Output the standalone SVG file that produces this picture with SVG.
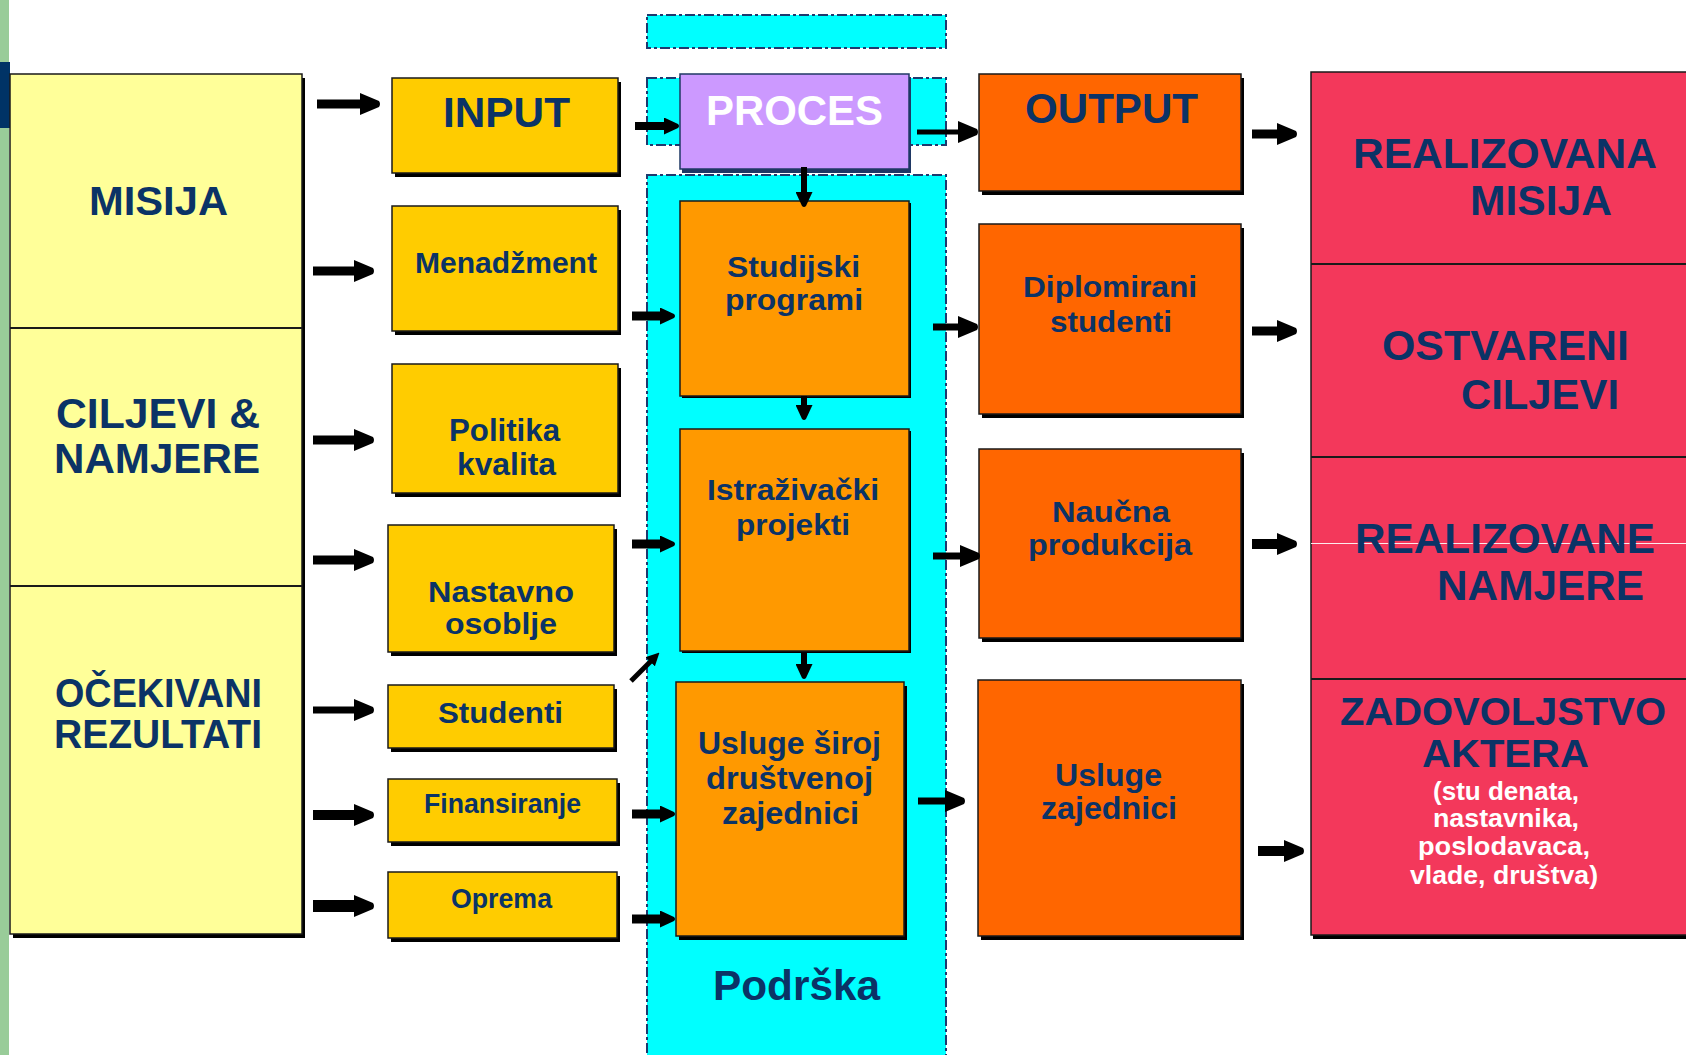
<svg xmlns="http://www.w3.org/2000/svg" width="1686" height="1055" viewBox="0 0 1686 1055">
<style>
.t{font-family:"Liberation Sans",Arial,sans-serif;font-weight:bold;fill:#0B3366}
.w{fill:#ffffff}
.box{stroke:#1a1a1a;stroke-width:1.5}
.sh{fill:#000}
.band{fill:#00FFFF;stroke:#1F3A6E;stroke-width:2;stroke-dasharray:10 3 3 3}
.div{stroke:#1a1a1a;stroke-width:2}
.c line{stroke:#000;fill:none}
</style>
<defs>
<marker id="ah" markerUnits="userSpaceOnUse" markerWidth="22" markerHeight="22" refX="1" refY="11" orient="auto" viewBox="0 0 22 22">
<path d="M0,0 L19,8 Q21,11 19,14 L0,22 z" fill="#000"/>
</marker>
<marker id="as" markerUnits="userSpaceOnUse" markerWidth="16" markerHeight="17" refX="1" refY="8.5" orient="auto" viewBox="0 0 16 17">
<path d="M0,0 L14,6.5 Q16,8.5 14,10.5 L0,17 z" fill="#000"/>
</marker>
<marker id="at" markerUnits="userSpaceOnUse" markerWidth="13" markerHeight="13" refX="1" refY="6.5" orient="auto" viewBox="0 0 13 13">
<path d="M0,0 L13,6.5 L0,13 z" fill="#000"/>
</marker>
</defs>
<rect width="1686" height="1055" fill="#fff"/>
<!-- left strip -->
<rect x="0" y="0" width="9" height="1055" fill="#99CC99"/>
<rect x="0" y="62" width="10" height="66" fill="#003366"/>

<!-- process bands -->
<g id="bands">
<rect class="band" x="647" y="15" width="299" height="33"/>
<rect class="band" x="647" y="78" width="299" height="67"/>
<rect class="band" x="647" y="175" width="299" height="900"/>
</g>

<!-- left column -->
<g id="left-column">
<rect class="sh" x="13" y="78" width="292" height="860"/>
<rect class="box" x="10" y="74" width="292" height="860" fill="#FFFF99"/>
<line class="div" x1="10" y1="328" x2="302" y2="328"/>
<line class="div" x1="10" y1="586" x2="302" y2="586"/>
</g>
<g id="misija"><text class="t" x="89" y="215" font-size="40" textLength="139" lengthAdjust="spacingAndGlyphs">MISIJA</text></g>
<g id="ciljevi"><text class="t" x="56" y="428" font-size="42" textLength="204" lengthAdjust="spacingAndGlyphs">CILJEVI &amp;</text>
<text class="t" x="54" y="473" font-size="42" textLength="206" lengthAdjust="spacingAndGlyphs">NAMJERE</text></g>
<g id="ocekivani"><text class="t" x="55" y="707" font-size="40" textLength="207" lengthAdjust="spacingAndGlyphs">OČEKIVANI</text>
<text class="t" x="54" y="748" font-size="40" textLength="208" lengthAdjust="spacingAndGlyphs">REZULTATI</text></g>

<!-- input column -->
<g id="input">
<rect class="sh" x="395" y="82" width="226" height="95"/>
<rect class="box" x="392" y="78" width="226" height="95" fill="#FFCC00"/>
<text class="t" x="443" y="127" font-size="42" textLength="127" lengthAdjust="spacingAndGlyphs">INPUT</text>
</g>
<g id="menadzment">
<rect class="sh" x="395" y="210" width="226" height="125"/>
<rect class="box" x="392" y="206" width="226" height="125" fill="#FFCC00"/>
<text class="t" x="415" y="273" font-size="29" textLength="182" lengthAdjust="spacingAndGlyphs">Menadžment</text>
</g>
<g id="politika">
<rect class="sh" x="395" y="368" width="226" height="129"/>
<rect class="box" x="392" y="364" width="226" height="129" fill="#FFCC00"/>
<text class="t" x="449" y="441" font-size="31" textLength="111" lengthAdjust="spacingAndGlyphs">Politika</text>
<text class="t" x="457" y="475" font-size="31" textLength="99" lengthAdjust="spacingAndGlyphs">kvalita</text>
</g>
<g id="nastavno">
<rect class="sh" x="391" y="529" width="226" height="127"/>
<rect class="box" x="388" y="525" width="226" height="127" fill="#FFCC00"/>
<text class="t" x="428" y="602" font-size="30" textLength="146" lengthAdjust="spacingAndGlyphs">Nastavno</text>
<text class="t" x="445" y="634" font-size="30" textLength="112" lengthAdjust="spacingAndGlyphs">osoblje</text>
</g>
<g id="studenti">
<rect class="sh" x="391" y="689" width="226" height="63"/>
<rect class="box" x="388" y="685" width="226" height="63" fill="#FFCC00"/>
<text class="t" x="438" y="723" font-size="30" textLength="125" lengthAdjust="spacingAndGlyphs">Studenti</text>
</g>
<g id="finansiranje">
<rect class="sh" x="391" y="783" width="229" height="63"/>
<rect class="box" x="388" y="779" width="229" height="63" fill="#FFCC00"/>
<text class="t" x="424" y="813" font-size="28" textLength="157" lengthAdjust="spacingAndGlyphs">Finansiranje</text>
</g>
<g id="oprema">
<rect class="sh" x="391" y="876" width="229" height="66"/>
<rect class="box" x="388" y="872" width="229" height="66" fill="#FFCC00"/>
<text class="t" x="451" y="908" font-size="28" textLength="101" lengthAdjust="spacingAndGlyphs">Oprema</text>
</g>

<!-- process column -->
<g id="proces">
<rect x="682" y="77" width="229" height="96" fill="#1F3864"/>
<rect x="680" y="74" width="229" height="95" fill="#CC99FF" stroke="#1F3864" stroke-width="1.5"/>
<text class="t w" x="706" y="125" font-size="42" textLength="177" lengthAdjust="spacingAndGlyphs">PROCES</text>
</g>
<g id="studijski">
<rect class="sh" x="682" y="203" width="229" height="195"/>
<rect class="box" x="680" y="201" width="229" height="195" fill="#FF9900"/>
<text class="t" x="727" y="277" font-size="30" textLength="133" lengthAdjust="spacingAndGlyphs">Studijski</text>
<text class="t" x="725" y="310" font-size="30" textLength="138" lengthAdjust="spacingAndGlyphs">programi</text>
</g>
<g id="istrazivacki">
<rect class="sh" x="682" y="431" width="229" height="222"/>
<rect class="box" x="680" y="429" width="229" height="222" fill="#FF9900"/>
<text class="t" x="707" y="500" font-size="30" textLength="172" lengthAdjust="spacingAndGlyphs">Istraživački</text>
<text class="t" x="736" y="535" font-size="30" textLength="114" lengthAdjust="spacingAndGlyphs">projekti</text>
</g>
<g id="usluge-siroj">
<rect class="sh" x="679" y="686" width="228" height="254"/>
<rect class="box" x="676" y="682" width="228" height="254" fill="#FF9900"/>
<text class="t" x="698" y="754" font-size="31" textLength="183" lengthAdjust="spacingAndGlyphs">Usluge široj</text>
<text class="t" x="706" y="789" font-size="31" textLength="167" lengthAdjust="spacingAndGlyphs">društvenoj</text>
<text class="t" x="722" y="824" font-size="31" textLength="137" lengthAdjust="spacingAndGlyphs">zajednici</text>
</g>
<g id="podrska"><text class="t" x="713" y="1000" font-size="42" textLength="167" lengthAdjust="spacingAndGlyphs">Podrška</text></g>

<!-- output column -->
<g id="output">
<rect class="sh" x="982" y="78" width="262" height="117"/>
<rect class="box" x="979" y="74" width="262" height="117" fill="#FF6600"/>
<text class="t" x="1025" y="123" font-size="42" textLength="173" lengthAdjust="spacingAndGlyphs">OUTPUT</text>
</g>
<g id="diplomirani">
<rect class="sh" x="982" y="228" width="262" height="190"/>
<rect class="box" x="979" y="224" width="262" height="190" fill="#FF6600"/>
<text class="t" x="1023" y="297" font-size="30" textLength="174" lengthAdjust="spacingAndGlyphs">Diplomirani</text>
<text class="t" x="1050" y="332" font-size="30" textLength="122" lengthAdjust="spacingAndGlyphs">studenti</text>
</g>
<g id="naucna">
<rect class="sh" x="982" y="453" width="262" height="189"/>
<rect class="box" x="979" y="449" width="262" height="189" fill="#FF6600"/>
<text class="t" x="1052" y="522" font-size="30" textLength="118" lengthAdjust="spacingAndGlyphs">Naučna</text>
<text class="t" x="1028" y="555" font-size="30" textLength="164" lengthAdjust="spacingAndGlyphs">produkcija</text>
</g>
<g id="usluge-zajednici">
<rect class="sh" x="981" y="684" width="263" height="256"/>
<rect class="box" x="978" y="680" width="263" height="256" fill="#FF6600"/>
<text class="t" x="1055" y="786" font-size="32" textLength="107" lengthAdjust="spacingAndGlyphs">Usluge</text>
<text class="t" x="1041" y="819" font-size="32" textLength="136" lengthAdjust="spacingAndGlyphs">zajednici</text>
</g>

<!-- right column -->
<g id="right-column">
<rect class="sh" x="1313" y="76" width="380" height="863"/>
<rect class="box" x="1311" y="72" width="380" height="863" fill="#F3385B" stroke="#555"/>
<line class="div" x1="1311" y1="264" x2="1686" y2="264"/>
<line class="div" x1="1311" y1="457" x2="1686" y2="457"/>
<line class="div" x1="1311" y1="679" x2="1686" y2="679"/>
<line x1="1311" y1="543.5" x2="1686" y2="543.5" stroke="#fff" stroke-width="1" opacity="0.9"/>
</g>
<g id="realizovana-misija">
<text class="t" x="1353" y="168" font-size="42" textLength="304" lengthAdjust="spacingAndGlyphs">REALIZOVANA</text>
<text class="t" x="1470" y="215" font-size="42" textLength="142" lengthAdjust="spacingAndGlyphs">MISIJA</text>
</g>
<g id="ostvareni-ciljevi">
<text class="t" x="1382" y="360" font-size="42" textLength="247" lengthAdjust="spacingAndGlyphs">OSTVARENI</text>
<text class="t" x="1461" y="409" font-size="42" textLength="158" lengthAdjust="spacingAndGlyphs">CILJEVI</text>
</g>
<g id="realizovane-namjere">
<text class="t" x="1355" y="553" font-size="42" textLength="300" lengthAdjust="spacingAndGlyphs">REALIZOVANE</text>
<text class="t" x="1437" y="600" font-size="42" textLength="207" lengthAdjust="spacingAndGlyphs">NAMJERE</text>
</g>
<g id="zadovoljstvo">
<text class="t" x="1340" y="725" font-size="38" textLength="326" lengthAdjust="spacingAndGlyphs">ZADOVOLJSTVO</text>
<text class="t" x="1422" y="767" font-size="38" textLength="167" lengthAdjust="spacingAndGlyphs">AKTERA</text>
<text class="t w" x="1433" y="800" font-size="25" textLength="146" lengthAdjust="spacingAndGlyphs">(stu denata,</text>
<text class="t w" x="1433" y="827" font-size="25" textLength="146" lengthAdjust="spacingAndGlyphs">nastavnika,</text>
<text class="t w" x="1418" y="855" font-size="25" textLength="172" lengthAdjust="spacingAndGlyphs">poslodavaca,</text>
<text class="t w" x="1410" y="884" font-size="25" textLength="188" lengthAdjust="spacingAndGlyphs">vlade, društva)</text>
</g>

<!-- connectors -->
<g id="connectors" class="c">
<line x1="317" y1="104" x2="361" y2="104" stroke-width="9" marker-end="url(#ah)"/>
<line x1="313" y1="271" x2="355" y2="271" stroke-width="9" marker-end="url(#ah)"/>
<line x1="313" y1="440" x2="355" y2="440" stroke-width="9" marker-end="url(#ah)"/>
<line x1="313" y1="560" x2="355" y2="560" stroke-width="9" marker-end="url(#ah)"/>
<line x1="313" y1="710" x2="355" y2="710" stroke-width="7" marker-end="url(#ah)"/>
<line x1="313" y1="815" x2="355" y2="815" stroke-width="10" marker-end="url(#ah)"/>
<line x1="313" y1="906" x2="355" y2="906" stroke-width="12" marker-end="url(#ah)"/>

<line x1="635" y1="126" x2="665" y2="126" stroke-width="8" marker-end="url(#as)"/>
<line x1="632" y1="316" x2="661" y2="316" stroke-width="9" marker-end="url(#as)"/>
<line x1="632" y1="544" x2="661" y2="544" stroke-width="9" marker-end="url(#as)"/>
<line x1="631" y1="681" x2="651" y2="661" stroke-width="5" marker-end="url(#at)"/>
<line x1="632" y1="814" x2="661" y2="814" stroke-width="9" marker-end="url(#as)"/>
<line x1="632" y1="919" x2="661" y2="919" stroke-width="9" marker-end="url(#as)"/>

<line x1="804" y1="167" x2="804" y2="193" stroke-width="6" marker-end="url(#as)"/>
<line x1="804" y1="396" x2="804" y2="406" stroke-width="6" marker-end="url(#as)"/>
<line x1="804" y1="652" x2="804" y2="665" stroke-width="6" marker-end="url(#as)"/>

<line x1="917" y1="132" x2="959" y2="132" stroke-width="5" marker-end="url(#ah)"/>
<line x1="933" y1="327" x2="959" y2="327" stroke-width="7" marker-end="url(#ah)"/>
<line x1="933" y1="556" x2="961" y2="556" stroke-width="7" marker-end="url(#ah)"/>
<line x1="918" y1="801" x2="946" y2="801" stroke-width="7" marker-end="url(#ah)"/>

<line x1="1252" y1="134" x2="1278" y2="134" stroke-width="9" marker-end="url(#ah)"/>
<line x1="1252" y1="331" x2="1278" y2="331" stroke-width="9" marker-end="url(#ah)"/>
<line x1="1252" y1="544" x2="1278" y2="544" stroke-width="10" marker-end="url(#ah)"/>
<line x1="1258" y1="851" x2="1285" y2="851" stroke-width="10" marker-end="url(#ah)"/>
</g>
</svg>
